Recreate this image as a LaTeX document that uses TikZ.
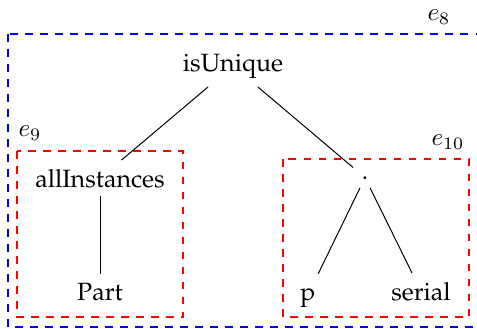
\documentclass[tikz,border=0pt]{standalone}
\usepackage[T1]{fontenc}
\renewcommand{\rmdefault}{ppl}
\begin{document}
\begin{tikzpicture}[x=0.4pt,y=-0.4pt,
  lbl/.style={anchor=base,inner sep=3.33pt},
  edge/.style={draw=black,line width=0.4pt},
  outerbox/.style={draw=blue,dashed,line width=0.45pt},
  redbox/.style={draw=red,dashed,line width=0.45pt}]
\useasboundingbox (0,0) rectangle (477,328);
\clip (0,0) rectangle (477,328);
\draw[outerbox] (8,34) rectangle (500,327);
\draw[redbox] (17,151) rectangle (183,317);
\draw[redbox] (283,159) rectangle (469,317);
\node (e8) at (439,17) {$e_8$};
\node (e9) at (30,133) {$e_9$};
\node (e10) at (448,142) {$e_{10}$};
\node[lbl] (isu) at (233,71) {isUnique};
\node[lbl] (all) at (100,187) {allInstances};
\node[lbl] (part) at (100,300) {Part};
\node[lbl] (dot) at (365,179) {.};
\node[lbl,text height=7pt] (p) at (308,300) {p};
\node[lbl] (ser) at (421,300) {serial};
\draw[edge] (isu) -- (all);
\draw[edge] (isu) -- (dot);
\draw[edge] (all) -- (part);
\draw[edge] (dot) -- (p);
\draw[edge] (dot) -- (ser);
\end{tikzpicture}
\end{document}
